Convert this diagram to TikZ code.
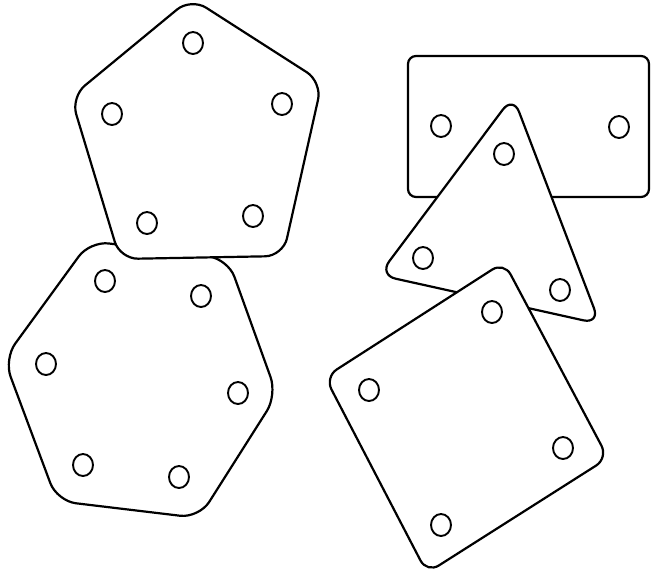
\documentclass[tikz,border=0pt]{standalone}
\begin{document}
\begin{tikzpicture}[x=1pt,y=-1pt,
  plate/.style={draw=black, fill=white, line width=2.2pt, line join=round},
  hole/.style={draw=black, line width=1.9pt, x radius=10, y radius=11}]
\useasboundingbox (0,0) rectangle (651,574);
\fill[white] (0,0) rectangle (651,574);
% hexagon (bottom layer, left)
\draw[plate, rounded corners=19pt] (4,359) -- (90,241) -- (228,259) -- (277,395) -- (199,518) -- (57,501) -- cycle;
\foreach \p in {(105,281),(201,296),(46,364),(238,393),(83,465),(179,477)}
  \draw[hole] \p ellipse [];
% pentagon
\draw[plate, rounded corners=18pt] (191,-2) -- (322,82) -- (283,256) -- (120,259) -- (71,97) -- cycle;
\foreach \p in {(193,43),(282,104),(112,114),(147,223),(253,216)}
  \draw[hole] \p ellipse [];
% rectangle
\draw[plate, rounded corners=8pt] (408,56) rectangle (649,197);
\foreach \p in {(441,126),(619,127)}
  \draw[hole] \p ellipse [];
% triangle
\draw[plate, rounded corners=17pt] (513,96) -- (600,324) -- (379,275) -- cycle;
\foreach \p in {(504,154),(423,258),(560,290)}
  \draw[hole] \p ellipse [];
% square
\draw[plate, rounded corners=14pt] (504,262) -- (608,458) -- (427,573) -- (325,377) -- cycle;
\foreach \p in {(492,312),(369,390),(563,448),(441,525)}
  \draw[hole] \p ellipse [];
\end{tikzpicture}
\end{document}
